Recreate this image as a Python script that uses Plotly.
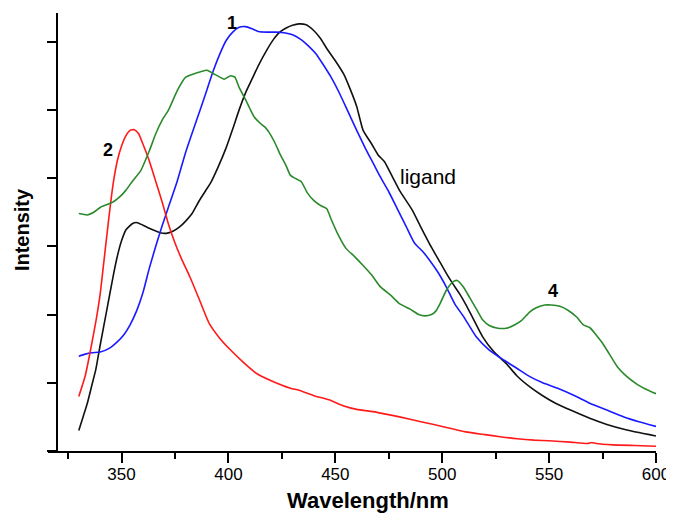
import plotly.graph_objects as go

# emission spectra (wavelength in nm, intensity in arbitrary units)
red_x = [330, 333, 335, 338, 340, 342, 344, 346, 348, 350, 352, 354, 356, 358, 360, 363, 366, 369, 372,
         375, 378, 382, 386, 391, 396, 401, 407, 413, 420, 429, 433, 440, 447, 454, 460, 469, 480, 490,
         500, 511, 520, 527, 535, 543, 550, 560, 568, 570, 572, 580, 590, 600]
red_y = [80, 110, 140, 190, 230, 285, 340, 390, 425, 447, 462, 470, 471, 465, 450, 425, 395, 365, 332,
         305, 282, 255, 225, 187, 165, 148, 130, 114, 103, 92, 89, 81, 75, 66, 61, 57, 50, 43,
         36, 28, 24, 21, 18, 16, 15, 13, 11, 12.5, 11, 9, 8, 7]

lig_x = [330, 332, 334, 336, 338, 340, 343, 346, 348, 350, 352, 355, 357, 360, 364, 368, 371, 374, 377,
         380, 383, 386, 389, 392, 395, 399, 402, 405, 408, 411, 414, 418, 421, 424, 427, 430, 433, 436,
         440, 443, 446, 450, 454, 457, 460, 463, 467, 470, 473, 477, 480, 486, 490, 494, 498, 502, 505,
         508, 511, 514, 519, 524, 530, 535, 541, 547, 553, 560, 569, 577, 585, 592, 600]
lig_y = [30, 50, 70, 95, 120, 155, 205, 255, 285, 308, 324, 333, 335, 331, 325, 320, 319, 322, 328,
         337, 348, 365, 380, 395, 415, 445, 472, 500, 525, 545, 565, 588, 603, 614, 620, 624, 626, 625,
         616, 605, 590, 572, 552, 530, 505, 470, 450, 434, 424, 400, 382, 353, 328, 304, 282, 260, 245,
         231, 215, 197, 167, 146, 128, 110, 94, 81, 70, 60, 48, 39, 32, 27, 22]

c1_x = [330, 333, 336, 340, 344, 348, 351, 354, 357, 360, 363, 366, 369, 372, 376, 380, 384, 387, 390,
        393, 396, 399, 402, 405, 408, 411, 414, 418, 422, 426, 430, 434, 437, 441, 444, 448, 452, 456,
        460, 464, 468, 471, 475, 479, 483, 487, 491, 494, 498, 502, 506, 510, 516, 522, 529, 535, 541,
        547, 554, 562, 569, 577, 585, 592, 600]
c1_y = [139, 142, 144, 145, 150, 160, 170, 185, 205, 232, 268, 300, 330, 358, 395, 438, 475, 502, 530,
        558, 582, 602, 614, 621, 622, 619, 615, 614, 614, 613, 610, 603, 595, 582, 568, 548, 524, 497,
        470, 444, 420, 402, 380, 355, 330, 305, 292, 280, 262, 240, 215, 197, 167, 148, 133, 121, 109,
        100, 92, 81, 70, 60, 50, 43, 36]

c4_x = [330, 334, 337, 340, 343, 346, 349, 352, 355, 359, 363, 366, 369, 372, 376, 380, 383, 387, 390,
        393, 396, 398, 401, 403, 405, 408, 410, 412, 415, 417, 419, 422, 424, 427, 429, 431, 434, 437,
        440, 443, 446, 448, 451, 455, 459, 463, 467, 471, 476, 480, 485, 489, 492, 495, 497, 499, 502,
        505, 507, 510, 513, 516, 519, 522, 526, 530, 534, 537, 541, 544, 548, 551, 555, 559, 563, 566,
        569, 572, 575, 578, 582, 586, 591, 595, 600]
c4_y = [348, 346, 350, 357, 361, 365, 372, 382, 395, 411, 440, 465, 485, 500, 528, 548, 552, 556, 558,
        553, 548, 545, 550, 548, 533, 515, 502, 490, 480, 475, 467, 450, 436, 418, 404, 400, 395, 378,
        367, 360, 355, 340, 319, 297, 285, 272, 258, 241, 228, 216, 208, 200, 198, 200, 205, 216, 236,
        248, 250, 240, 224, 208, 192, 184, 180, 180, 185, 191, 204, 210, 214, 214, 212, 206, 196, 185,
        181, 170, 158, 143, 123, 110, 98, 91, 84]

series = [
    ("ligand", lig_x, lig_y, "#111111"),
    ("1", c1_x, c1_y, "#1a1aff"),
    ("2", red_x, red_y, "#ff1a1a"),
    ("4", c4_x, c4_y, "#2a8a2a"),
]

# curve labels: (text, wavelength, intensity, bold, size)
labels = [
    ("1", 401.5, 628, True, 18),
    ("2", 343.7, 441, True, 18),
    ("4", 551.7, 234, True, 18),
    ("ligand", 493.5, 402, False, 21),
]

xticks = [350, 400, 450, 500, 550, 600]

fig = go.Figure()
for name, xs, ys, col in series:
    fig.add_trace(go.Scatter(x=xs, y=ys, mode="lines", name=name,
                             line=dict(color=col, width=1.6, shape="spline", smoothing=0.5),
                             showlegend=False))

for txt, lx, ly, bold, sz in labels:
    fig.add_annotation(x=lx, y=ly, text=f"<b>{txt}</b>" if bold else txt, showarrow=False,
                       font=dict(size=sz, color="black"))

# axis titles (page body adds an 8px offset, figure is sized for it)
fig.add_annotation(x=-0.0416, y=0.506, xref="paper", yref="paper", text="<b>Intensity</b>",
                   textangle=-90, showarrow=False, xanchor="center", yanchor="middle",
                   font=dict(size=20, color="black"))
fig.add_annotation(x=0.526, y=-0.112, xref="paper", yref="paper", text="<b>Wavelength/nm</b>",
                   showarrow=False, xanchor="center", yanchor="middle",
                   font=dict(size=22, color="black"))

fig.update_layout(
    width=666, height=505,
    margin=dict(l=40, r=18, t=5, b=62),
    plot_bgcolor="white", paper_bgcolor="white",
    font=dict(family="Liberation Sans, Arial, sans-serif", color="black"),
    xaxis=dict(range=[315.6, 600], showgrid=False, zeroline=False, automargin=False,
               showline=True, linecolor="black", linewidth=2,
               tickmode="array", tickvals=xticks, ticks="outside", ticklen=10,
               tickwidth=2, tickcolor="black", tickfont=dict(size=17), ticklabelstandoff=-3,
               minor=dict(tickvals=[325, 375, 425, 475, 525, 575], ticks="outside",
                          ticklen=6, tickwidth=2, tickcolor="black")),
    yaxis=dict(range=[0, 642], showgrid=False, zeroline=False, automargin=False,
               anchor="free", position=0.0148,
               showline=True, linecolor="black", linewidth=2,
               dtick=100, ticks="outside", ticklen=9, tickwidth=2, tickcolor="black",
               showticklabels=False),
)

fig.write_html("out.html")
